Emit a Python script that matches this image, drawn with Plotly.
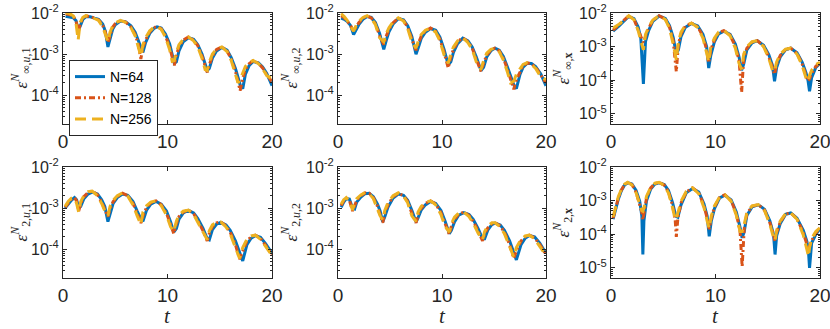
import plotly.graph_objects as go
from plotly.subplots import make_subplots

series_names = ["N=64", "N=128", "N=256"]
series_colors = ["#0072BD", "#D95319", "#EDB120"]
series_dash = ["solid", "6px,3px,2px,3px", "11px,6px"]

# ---- eps_inf,u,1 ----
t_inf_u1 = [0.25, 0.6, 1.0, 1.25, 1.45, 1.65, 1.9, 2.2, 2.6, 3.0,
            3.4, 3.8, 4.05, 4.3, 4.5, 4.75, 5.0, 5.5, 6.0, 6.5,
            6.9, 7.2, 7.45, 7.65, 7.9, 8.3, 8.7, 9.0, 9.4, 9.8,
            10.2, 10.45, 10.65, 10.85, 11.1, 11.5, 12.0, 12.5, 12.9, 13.3,
            13.6, 13.8, 14.0, 14.3, 14.7, 15.2, 15.7, 16.1, 16.5, 16.75,
            16.95, 17.2, 17.45, 17.8, 18.2, 18.7, 19.1, 19.5, 20.0]
inf_u1_64 = [8.3e-3, 8.0e-3, 7.6e-3, 6.5e-3, 3.8e-3, 4.8e-3, 7.0e-3, 8.2e-3, 8.1e-3, 7.5e-3,
             7.0e-3, 5.4e-3, 3.6e-3, 1.5e-3, 2.5e-3, 4.0e-3, 5.2e-3, 6.4e-3, 6.1e-3, 4.9e-3,
             3.4e-3, 2.2e-3, 1.4e-3, 1.1e-3, 1.9e-3, 3.2e-3, 4.2e-3, 4.6e-3, 4.3e-3, 3.1e-3,
             1.8e-3, 1.0e-3, 6.0e-4, 6.5e-4, 1.2e-3, 2.0e-3, 2.5e-3, 2.3e-3, 1.7e-3, 1.0e-3,
             5.8e-4, 4.0e-4, 4.5e-4, 8.0e-4, 1.2e-3, 1.45e-3, 1.25e-3, 8.2e-4, 4.5e-4, 2.8e-4,
             1.8e-4, 1.45e-4, 3.2e-4, 5.2e-4, 6.6e-4, 6.1e-4, 4.9e-4, 3.4e-4, 1.7e-4]
inf_u1_128 = [9.6e-3, 9.2e-3, 8.2e-3, 6.5e-3, 3.3e-3, 5.5e-3, 7.5e-3, 8.5e-3, 8.2e-3, 7.6e-3,
              6.8e-3, 5.0e-3, 3.4e-3, 1.9e-3, 3.0e-3, 4.5e-3, 5.5e-3, 6.5e-3, 6.0e-3, 4.6e-3,
              3.0e-3, 1.8e-3, 7.6e-4, 1.5e-3, 2.2e-3, 3.5e-3, 4.4e-3, 4.7e-3, 4.1e-3, 2.8e-3,
              1.5e-3, 8.5e-4, 5.3e-4, 9.5e-4, 1.5e-3, 2.2e-3, 2.6e-3, 2.2e-3, 1.6e-3, 9.0e-4,
              5.0e-4, 3.6e-4, 5.5e-4, 9.0e-4, 1.3e-3, 1.5e-3, 1.2e-3, 7.5e-4, 3.8e-4, 2.0e-4,
              1.3e-4, 2.6e-4, 4.2e-4, 5.8e-4, 6.9e-4, 6.0e-4, 4.6e-4, 3.2e-4, 2.1e-4]
inf_u1_256 = [1.0e-2, 9.8e-3, 8.5e-3, 5.5e-3, 2.2e-3, 6.0e-3, 7.8e-3, 8.6e-3, 8.2e-3, 7.5e-3,
              6.6e-3, 4.6e-3, 3.0e-3, 2.0e-3, 3.4e-3, 4.8e-3, 5.7e-3, 6.6e-3, 5.9e-3, 4.4e-3,
              2.8e-3, 1.5e-3, 9.0e-4, 1.7e-3, 2.5e-3, 3.7e-3, 4.5e-3, 4.7e-3, 4.0e-3, 2.6e-3,
              1.3e-3, 6.7e-4, 7.0e-4, 1.1e-3, 1.7e-3, 2.3e-3, 2.6e-3, 2.1e-3, 1.5e-3, 8.0e-4,
              4.2e-4, 4.0e-4, 6.5e-4, 1.0e-3, 1.35e-3, 1.5e-3, 1.15e-3, 7.0e-4, 3.2e-4, 2.0e-4,
              2.4e-4, 3.6e-4, 5.0e-4, 6.3e-4, 7.0e-4, 5.9e-4, 4.4e-4, 3.0e-4, 2.5e-4]

# ---- eps_inf,u,2 ----
t_inf_u2 = [0.3, 0.6, 0.9, 1.2, 1.5, 1.75, 2.0, 2.4, 2.8, 3.2,
            3.6, 4.0, 4.4, 4.65, 4.9, 5.3, 5.8, 6.3, 6.7, 7.1,
            7.5, 7.75, 8.0, 8.4, 8.9, 9.4, 9.8, 10.2, 10.6, 10.85,
            11.1, 11.5, 12.0, 12.5, 12.9, 13.3, 13.75, 14.0, 14.3, 14.7,
            15.1, 15.5, 15.9, 16.3, 16.6, 16.9, 17.15, 17.5, 17.8, 18.2,
            18.6, 19.0, 19.5, 20.0]
inf_u2_64 = [7.5e-3, 7.0e-3, 6.2e-3, 5.0e-3, 3.0e-3, 3.8e-3, 5.2e-3, 7.0e-3, 8.2e-3, 7.8e-3,
             5.9e-3, 3.2e-3, 1.3e-3, 2.2e-3, 3.5e-3, 5.4e-3, 7.3e-3, 6.8e-3, 4.9e-3, 2.7e-3,
             1.0e-3, 1.5e-3, 2.4e-3, 3.4e-3, 4.2e-3, 3.8e-3, 2.6e-3, 1.3e-3, 5.5e-4, 6.5e-4,
             1.1e-3, 1.8e-3, 2.45e-3, 2.1e-3, 1.5e-3, 8.5e-4, 4.0e-4, 4.8e-4, 8.5e-4, 1.2e-3,
             1.4e-3, 1.25e-3, 8.8e-4, 4.8e-4, 2.8e-4, 1.8e-4, 1.45e-4, 3.2e-4, 4.8e-4, 6.0e-4,
             5.9e-4, 5.0e-4, 3.3e-4, 1.7e-4]
inf_u2_128 = [8.6e-3, 7.6e-3, 6.3e-3, 5.0e-3, 3.6e-3, 4.6e-3, 5.8e-3, 7.5e-3, 8.5e-3, 7.6e-3,
              5.5e-3, 2.8e-3, 1.7e-3, 2.8e-3, 4.0e-3, 5.8e-3, 7.5e-3, 6.6e-3, 4.5e-3, 2.3e-3,
              1.25e-3, 1.9e-3, 2.7e-3, 3.6e-3, 4.3e-3, 3.6e-3, 2.3e-3, 1.1e-3, 4.6e-4, 8.5e-4,
              1.3e-3, 2.0e-3, 2.5e-3, 2.0e-3, 1.4e-3, 7.5e-4, 3.8e-4, 6.0e-4, 9.5e-4, 1.25e-3,
              1.4e-3, 1.2e-3, 8.0e-4, 4.2e-4, 2.3e-4, 1.4e-4, 2.4e-4, 3.8e-4, 5.2e-4, 6.1e-4,
              5.8e-4, 4.8e-4, 3.0e-4, 2.0e-4]
inf_u2_256 = [9.6e-3, 8.2e-3, 6.5e-3, 4.8e-3, 3.6e-3, 5.0e-3, 6.3e-3, 7.8e-3, 8.6e-3, 7.4e-3,
              5.2e-3, 2.5e-3, 2.0e-3, 3.2e-3, 4.4e-3, 6.1e-3, 7.6e-3, 6.4e-3, 4.2e-3, 2.0e-3,
              1.4e-3, 2.2e-3, 3.0e-3, 3.8e-3, 4.3e-3, 3.4e-3, 2.1e-3, 9.5e-4, 6.0e-4, 1.0e-3,
              1.5e-3, 2.1e-3, 2.5e-3, 1.9e-3, 1.3e-3, 6.5e-4, 4.2e-4, 7.0e-4, 1.05e-3, 1.3e-3,
              1.4e-3, 1.15e-3, 7.2e-4, 3.6e-4, 2.0e-4, 2.2e-4, 3.2e-4, 4.4e-4, 5.6e-4, 6.2e-4,
              5.6e-4, 4.5e-4, 2.8e-4, 2.4e-4]

# ---- eps_inf,x ----
t_inf_x = [0.2, 0.5, 0.8, 1.2, 1.7, 2.2, 2.6, 2.85, 3.1, 3.3,
           3.6, 4.0, 4.6, 5.2, 5.6, 5.95, 6.25, 6.45, 6.7, 7.1,
           7.7, 8.3, 8.8, 9.15, 9.35, 9.55, 9.9, 10.3, 10.8, 11.4,
           11.9, 12.25, 12.5, 12.7, 13.0, 13.5, 14.0, 14.6, 15.1, 15.45,
           15.65, 15.85, 16.2, 16.7, 17.2, 17.8, 18.3, 18.65, 18.85, 19.0,
           19.2, 19.6, 20.0]
inf_x_64 = [2.9e-3, 3.4e-3, 4.2e-3, 5.6e-3, 7.9e-3, 6.8e-3, 3.8e-3, 1.8e-3, 7.8e-5, 1.4e-3,
            3.0e-3, 5.6e-3, 8.1e-3, 6.9e-3, 4.2e-3, 1.9e-3, 6.0e-4, 8.0e-4, 2.0e-3, 3.7e-3,
            4.9e-3, 4.1e-3, 2.3e-3, 1.0e-3, 2.3e-4, 5.5e-4, 1.4e-3, 2.4e-3, 2.9e-3, 2.3e-3,
            1.2e-3, 5.0e-4, 2.0e-4, 3.0e-4, 8.0e-4, 1.3e-3, 1.5e-3, 1.1e-3, 5.8e-4, 2.8e-4,
            9.3e-5, 2.4e-4, 5.0e-4, 8.0e-4, 9.0e-4, 6.6e-4, 3.4e-4, 1.7e-4, 1.0e-4, 4.7e-5,
            1.2e-4, 2.4e-4, 3.2e-4]
inf_x_128 = [3.1e-3, 3.8e-3, 4.5e-3, 5.8e-3, 8.2e-3, 6.5e-3, 3.3e-3, 2.0e-3, 1.3e-3, 2.0e-3,
             3.5e-3, 6.0e-3, 8.3e-3, 6.6e-3, 3.8e-3, 1.5e-3, 1.8e-4, 1.2e-3, 2.4e-3, 4.0e-3,
             5.0e-3, 3.9e-3, 2.0e-3, 8.0e-4, 3.3e-4, 8.0e-4, 1.6e-3, 2.6e-3, 3.0e-3, 2.2e-3,
             1.0e-3, 4.0e-4, 4.4e-5, 4.5e-4, 9.0e-4, 1.35e-3, 1.5e-3, 1.05e-3, 5.0e-4, 2.4e-4,
             1.5e-4, 3.0e-4, 5.5e-4, 8.2e-4, 9.0e-4, 6.3e-4, 3.0e-4, 1.4e-4, 9.5e-5, 1.1e-4,
             1.6e-4, 2.6e-4, 3.3e-4]
inf_x_256 = [3.6e-3, 4.1e-3, 4.7e-3, 6.0e-3, 8.3e-3, 6.3e-3, 3.0e-3, 1.5e-3, 8.0e-4, 2.3e-3,
             3.8e-3, 6.2e-3, 8.3e-3, 6.4e-3, 3.5e-3, 1.2e-3, 4.0e-4, 1.4e-3, 2.7e-3, 4.2e-3,
             5.0e-3, 3.7e-3, 1.8e-3, 6.5e-4, 3.5e-4, 1.0e-3, 1.8e-3, 2.7e-3, 3.0e-3, 2.1e-3,
             9.0e-4, 3.2e-4, 2.1e-4, 6.0e-4, 1.0e-3, 1.4e-3, 1.5e-3, 1.0e-3, 4.5e-4, 2.0e-4,
             1.8e-4, 3.5e-4, 6.0e-4, 8.4e-4, 9.0e-4, 6.0e-4, 2.7e-4, 1.2e-4, 9.3e-5, 1.4e-4,
             2.0e-4, 2.9e-4, 3.4e-4]

# ---- eps_2,u,1 ----
t_l2_u1 = [0.2, 0.5, 0.8, 1.1, 1.3, 1.5, 1.7, 2.0, 2.4, 2.8,
           3.3, 3.7, 4.0, 4.3, 4.5, 4.8, 5.2, 5.7, 6.2, 6.7,
           7.1, 7.45, 7.65, 8.0, 8.4, 8.9, 9.4, 9.9, 10.3, 10.6,
           10.85, 11.1, 11.5, 12.0, 12.5, 12.9, 13.4, 13.8, 14.0, 14.3,
           14.7, 15.1, 15.6, 16.0, 16.5, 16.9, 17.2, 17.6, 18.0, 18.4,
           18.9, 19.4, 20.0]
l2_u1_64 = [1.0e-3, 1.25e-3, 1.55e-3, 1.8e-3, 1.6e-3, 1.0e-3, 1.1e-3, 1.7e-3, 2.2e-3, 2.45e-3,
            2.2e-3, 1.6e-3, 1.1e-3, 4.7e-4, 7.5e-4, 1.3e-3, 1.8e-3, 2.2e-3, 2.05e-3, 1.45e-3,
            8.5e-4, 5.5e-4, 4.8e-4, 9.0e-4, 1.25e-3, 1.45e-3, 1.25e-3, 8.5e-4, 4.6e-4, 2.6e-4,
            3.2e-4, 5.4e-4, 7.6e-4, 8.8e-4, 7.6e-4, 5.6e-4, 3.2e-4, 1.8e-4, 1.7e-4, 3.0e-4,
            4.1e-4, 4.5e-4, 3.9e-4, 2.9e-4, 1.6e-4, 8.0e-5, 5.2e-5, 1.3e-4, 1.85e-4, 2.15e-4,
            1.95e-4, 1.35e-4, 8.0e-5]
l2_u1_128 = [1.05e-3, 1.35e-3, 1.65e-3, 1.8e-3, 1.5e-3, 8.5e-4, 1.3e-3, 1.9e-3, 2.4e-3, 2.6e-3,
             2.1e-3, 1.4e-3, 9.5e-4, 6.2e-4, 9.5e-4, 1.45e-3, 1.9e-3, 2.3e-3, 2.0e-3, 1.3e-3,
             7.5e-4, 4.3e-4, 6.5e-4, 1.05e-3, 1.35e-3, 1.5e-3, 1.2e-3, 7.5e-4, 4.0e-4, 2.4e-4,
             4.2e-4, 6.2e-4, 8.0e-4, 9.0e-4, 7.3e-4, 5.0e-4, 2.8e-4, 1.6e-4, 2.4e-4, 3.6e-4,
             4.4e-4, 4.6e-4, 3.7e-4, 2.6e-4, 1.3e-4, 5.7e-5, 9.0e-5, 1.6e-4, 2.0e-4, 2.2e-4,
             1.85e-4, 1.25e-4, 7.5e-5]
l2_u1_256 = [1.1e-3, 1.45e-3, 1.75e-3, 1.75e-3, 1.3e-3, 8.0e-4, 1.45e-3, 2.0e-3, 2.5e-3, 2.6e-3,
             2.0e-3, 1.3e-3, 8.5e-4, 6.6e-4, 1.1e-3, 1.55e-3, 2.0e-3, 2.35e-3, 1.95e-3, 1.2e-3,
             6.5e-4, 4.0e-4, 8.0e-4, 1.15e-3, 1.4e-3, 1.5e-3, 1.15e-3, 6.8e-4, 3.5e-4, 2.7e-4,
             4.8e-4, 6.8e-4, 8.4e-4, 9.0e-4, 7.0e-4, 4.6e-4, 2.5e-4, 1.7e-4, 2.8e-4, 3.9e-4,
             4.5e-4, 4.6e-4, 3.5e-4, 2.4e-4, 1.1e-4, 6.0e-5, 1.1e-4, 1.75e-4, 2.1e-4, 2.2e-4,
             1.75e-4, 1.15e-4, 7.0e-5]

# ---- eps_2,u,2 ----
t_l2_u2 = [0.3, 0.55, 0.8, 1.1, 1.4, 1.6, 1.8, 2.2, 2.6, 3.0,
           3.4, 3.8, 4.05, 4.3, 4.5, 4.8, 5.3, 5.8, 6.3, 6.7,
           7.1, 7.5, 7.7, 8.0, 8.4, 8.9, 9.4, 9.9, 10.3, 10.7,
           10.9, 11.2, 11.6, 12.1, 12.6, 13.0, 13.5, 13.9, 14.1, 14.4,
           14.8, 15.1, 15.6, 16.0, 16.5, 16.9, 17.15, 17.6, 18.0, 18.4,
           18.9, 19.4, 20.0]
l2_u2_64 = [1.05e-3, 1.4e-3, 1.7e-3, 1.65e-3, 1.0e-3, 9.5e-4, 1.4e-3, 1.85e-3, 2.25e-3, 2.3e-3,
            1.9e-3, 1.25e-3, 8.5e-4, 4.6e-4, 6.2e-4, 1.05e-3, 1.75e-3, 2.2e-3, 2.05e-3, 1.55e-3,
            8.8e-4, 4.6e-4, 5.8e-4, 9.0e-4, 1.2e-3, 1.45e-3, 1.3e-3, 8.8e-4, 4.8e-4, 2.4e-4,
            2.9e-4, 4.6e-4, 6.7e-4, 7.8e-4, 7.0e-4, 5.3e-4, 3.1e-4, 1.8e-4, 1.8e-4, 2.9e-4,
            4.0e-4, 4.3e-4, 3.9e-4, 2.9e-4, 1.6e-4, 8.5e-5, 5.5e-5, 1.3e-4, 1.85e-4, 2.15e-4,
            2.0e-4, 1.4e-4, 8.0e-5]
l2_u2_128 = [1.15e-3, 1.5e-3, 1.75e-3, 1.55e-3, 8.5e-4, 1.2e-3, 1.55e-3, 2.0e-3, 2.35e-3, 2.3e-3,
             1.8e-3, 1.1e-3, 7.2e-4, 4.4e-4, 7.5e-4, 1.2e-3, 1.9e-3, 2.3e-3, 2.0e-3, 1.45e-3,
             7.5e-4, 4.4e-4, 6.8e-4, 1.0e-3, 1.3e-3, 1.5e-3, 1.25e-3, 7.8e-4, 4.2e-4, 2.3e-4,
             3.6e-4, 5.3e-4, 7.2e-4, 8.0e-4, 6.6e-4, 4.8e-4, 2.7e-4, 1.6e-4, 2.3e-4, 3.3e-4,
             4.2e-4, 4.4e-4, 3.7e-4, 2.6e-4, 1.3e-4, 6.0e-5, 9.0e-5, 1.6e-4, 2.0e-4, 2.2e-4,
             1.9e-4, 1.3e-4, 7.5e-5]
l2_u2_256 = [1.25e-3, 1.6e-3, 1.8e-3, 1.45e-3, 9.0e-4, 1.35e-3, 1.7e-3, 2.1e-3, 2.4e-3, 2.25e-3,
             1.7e-3, 9.8e-4, 6.5e-4, 5.2e-4, 8.8e-4, 1.35e-3, 2.0e-3, 2.35e-3, 1.95e-3, 1.35e-3,
             6.5e-4, 4.8e-4, 8.0e-4, 1.1e-3, 1.38e-3, 1.5e-3, 1.2e-3, 7.0e-4, 3.6e-4, 2.6e-4,
             4.2e-4, 6.0e-4, 7.6e-4, 8.0e-4, 6.2e-4, 4.3e-4, 2.4e-4, 1.7e-4, 2.7e-4, 3.7e-4,
             4.4e-4, 4.4e-4, 3.5e-4, 2.4e-4, 1.1e-4, 6.5e-5, 1.1e-4, 1.75e-4, 2.1e-4, 2.2e-4,
             1.8e-4, 1.2e-4, 7.0e-5]

# ---- eps_2,x ----
t_l2_x = [0.2, 0.45, 0.7, 1.0, 1.3, 1.6, 2.0, 2.4, 2.75, 2.95,
          3.05, 3.15, 3.4, 3.8, 4.2, 4.6, 5.1, 5.5, 5.9, 6.15,
          6.25, 6.4, 6.7, 7.2, 7.8, 8.4, 8.9, 9.2, 9.4, 9.6,
          9.9, 10.4, 10.9, 11.5, 12.0, 12.35, 12.55, 12.75, 13.0, 13.5,
          14.1, 14.7, 15.2, 15.55, 15.7, 15.85, 16.2, 16.7, 17.2, 17.8,
          18.4, 18.75, 18.9, 19.0, 19.2, 19.6, 20.0]
l2_x_64 = [2.8e-4, 6.0e-4, 1.1e-3, 2.0e-3, 2.9e-3, 3.4e-3, 3.1e-3, 2.0e-3, 9.5e-4, 3.5e-4,
           2.5e-5, 2.5e-4, 1.0e-3, 2.2e-3, 3.1e-3, 3.4e-3, 3.0e-3, 2.0e-3, 8.5e-4, 4.0e-4,
           3.4e-4, 3.2e-4, 7.5e-4, 1.7e-3, 2.3e-3, 1.8e-3, 8.0e-4, 3.5e-4, 8.7e-5, 2.5e-4,
           5.8e-4, 1.2e-3, 1.45e-3, 1.05e-3, 4.5e-4, 1.6e-4, 7.8e-5, 1.2e-4, 3.6e-4, 6.5e-4,
           7.5e-4, 5.5e-4, 2.5e-4, 1.0e-4, 2.5e-5, 9.0e-5, 2.1e-4, 3.9e-4, 4.3e-4, 3.0e-4,
           1.3e-4, 6.0e-5, 3.0e-5, 1.0e-5, 5.5e-5, 1.0e-4, 1.45e-4]
l2_x_128 = [3.0e-4, 6.5e-4, 1.2e-3, 2.1e-3, 3.0e-3, 3.5e-3, 3.0e-3, 1.8e-3, 8.0e-4, 4.5e-4,
            2.7e-4, 4.2e-4, 1.2e-3, 2.4e-3, 3.2e-3, 3.5e-3, 2.9e-3, 1.8e-3, 7.0e-4, 2.5e-4,
            8.3e-5, 3.0e-4, 8.5e-4, 1.8e-3, 2.4e-3, 1.7e-3, 7.0e-4, 3.0e-4, 1.4e-4, 3.0e-4,
            6.5e-4, 1.25e-3, 1.5e-3, 1.0e-3, 4.0e-4, 1.2e-4, 1.1e-5, 1.5e-4, 4.0e-4, 6.8e-4,
            7.6e-4, 5.2e-4, 2.2e-4, 1.0e-4, 6.2e-5, 1.1e-4, 2.3e-4, 4.0e-4, 4.3e-4, 2.9e-4,
            1.1e-4, 5.0e-5, 3.5e-5, 4.5e-5, 6.5e-5, 1.1e-4, 1.5e-4]
l2_x_256 = [3.3e-4, 7.0e-4, 1.3e-3, 2.2e-3, 3.1e-3, 3.5e-3, 2.9e-3, 1.7e-3, 7.0e-4, 5.0e-4,
            4.8e-4, 6.0e-4, 1.35e-3, 2.5e-3, 3.3e-3, 3.5e-3, 2.8e-3, 1.7e-3, 6.0e-4, 2.7e-4,
            2.9e-4, 4.5e-4, 9.5e-4, 1.9e-3, 2.4e-3, 1.6e-3, 6.2e-4, 2.5e-4, 1.5e-4, 3.5e-4,
            7.0e-4, 1.3e-3, 1.5e-3, 9.5e-4, 3.6e-4, 1.2e-4, 1.2e-4, 2.0e-4, 4.4e-4, 7.0e-4,
            7.6e-4, 5.0e-4, 2.0e-4, 8.0e-5, 6.5e-5, 1.3e-4, 2.5e-4, 4.1e-4, 4.3e-4, 2.8e-4,
            9.5e-5, 3.5e-5, 2.2e-5, 4.0e-5, 7.5e-5, 1.2e-4, 1.55e-4]

x_ticks = [0, 10, 20]
y_ticks_u = [1e-2, 1e-3, 1e-4]
y_ticks_x = [1e-2, 1e-3, 1e-4, 1e-5]
y_ticktext_u = ["10<sup>-2</sup>", "10<sup>-3</sup>", "10<sup>-4</sup>"]
y_ticktext_x = ["10<sup>-2</sup>", "10<sup>-3</sup>", "10<sup>-4</sup>", "10<sup>-5</sup>"]
minor_u = [m * 10.0 ** e for e in (-5, -4, -3) for m in range(2, 10)]
minor_x = [m * 10.0 ** e for e in (-6, -5, -4, -3) for m in range(2, 10)]

panels = [
    (t_inf_u1, [inf_u1_64, inf_u1_128, inf_u1_256], "<i>ε</i><sup><i>N</i></sup><sub>∞,<i>u</i>,1</sub>", "u"),
    (t_inf_u2, [inf_u2_64, inf_u2_128, inf_u2_256], "<i>ε</i><sup><i>N</i></sup><sub>∞,<i>u</i>,2</sub>", "u"),
    (t_inf_x, [inf_x_64, inf_x_128, inf_x_256], "<i>ε</i><sup><i>N</i></sup><sub>∞,<b>x</b></sub>", "x"),
    (t_l2_u1, [l2_u1_64, l2_u1_128, l2_u1_256], "<i>ε</i><sup><i>N</i></sup><sub>2,<i>u</i>,1</sub>", "u"),
    (t_l2_u2, [l2_u2_64, l2_u2_128, l2_u2_256], "<i>ε</i><sup><i>N</i></sup><sub>2,<i>u</i>,2</sub>", "u"),
    (t_l2_x, [l2_x_64, l2_x_128, l2_x_256], "<i>ε</i><sup><i>N</i></sup><sub>2,<b>x</b></sub>", "x"),
]

W, H = 830, 329
x_px = [(63, 272), (338, 546), (611, 820)]
y_px = [(13, 124), (167, 278)]
label_x_px = [21, 291, 563]

AX = "#262626"
SANS = "Liberation Sans, Arial, sans-serif"
SERIF = "Liberation Serif, Times New Roman, serif"

fig = make_subplots(rows=2, cols=3)

annotations = []
for i, (t, ys, ylabel, kind) in enumerate(panels):
    r, c = i // 3, i % 3
    for k in range(3):
        fig.add_trace(
            go.Scatter(
                x=t, y=ys[k], mode="lines", name=series_names[k],
                line=dict(color=series_colors[k], width=3, dash=series_dash[k]),
                showlegend=(i == 0), hoverinfo="skip",
            ),
            row=r + 1, col=c + 1,
        )
    n = i + 1
    xd = [x_px[c][0] / W, x_px[c][1] / W]
    yd = [1 - y_px[r][1] / H, 1 - y_px[r][0] / H]
    bottom = -4.699 if kind == "u" else -5.301
    fig.update_layout({
        f"xaxis{n}": dict(
            domain=xd, range=[0, 20], tickvals=x_ticks, ticks="inside", ticklen=4,
            showline=True, linecolor=AX, linewidth=1, mirror="ticks", tickcolor=AX,
            showgrid=False, zeroline=False, automargin=False, ticklabeloverflow="allow",
            tickfont=dict(family=SANS, size=19, color=AX),
        ),
        f"yaxis{n}": dict(
            domain=yd, type="log", range=[bottom, -2],
            tickvals=y_ticks_u if kind == "u" else y_ticks_x,
            ticktext=y_ticktext_u if kind == "u" else y_ticktext_x,
            ticks="inside", ticklen=4, tickcolor=AX,
            minor=dict(ticks="inside", ticklen=2, tickcolor=AX, showgrid=False,
                       tickvals=minor_u if kind == "u" else minor_x),
            showline=True, linecolor=AX, linewidth=1, mirror="ticks",
            showgrid=False, zeroline=False, automargin=False, ticklabeloverflow="allow",
            tickfont=dict(family=SANS, size=16, color=AX),
        ),
    })
    annotations.append(dict(
        text=ylabel, textangle=-90, showarrow=False, xref="paper", yref="paper",
        x=label_x_px[c] / W, y=(yd[0] + yd[1]) / 2, xanchor="center", yanchor="middle",
        font=dict(family=SERIF, size=17, color=AX),
    ))
    if r == 1:
        annotations.append(dict(
            text="<i>t</i>", showarrow=False, xref="paper", yref="paper",
            x=(xd[0] + xd[1]) / 2, y=1 - 316 / H, xanchor="center", yanchor="middle",
            font=dict(family=SERIF, size=21, color=AX),
        ))

fig.update_layout(
    width=W, height=H,
    margin=dict(l=0, r=0, t=0, b=0, autoexpand=False),
    paper_bgcolor="white", plot_bgcolor="white",
    annotations=annotations,
    hovermode=False,
    legend=dict(
        x=69 / W, y=1 - 60 / H, xanchor="left", yanchor="top",
        bgcolor="white", bordercolor=AX, borderwidth=1,
        font=dict(family=SANS, size=14, color="black"),
        itemwidth=30, tracegroupgap=0,
    ),
)

fig.write_html(
    "out.html",
    config={"displayModeBar": False},
    post_script="document.body.style.margin='0';",
)
